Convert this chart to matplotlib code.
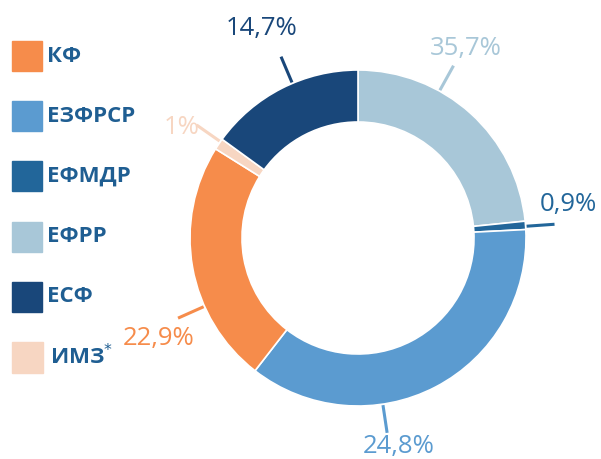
import numpy as np
import matplotlib.pyplot as plt
from matplotlib.patches import Rectangle

# slices clockwise from 12 o'clock (sizes as drawn)
names = ["ЕФРР", "ЕФМДР", "ЕЗФРСР", "КФ", "ИМЗ", "ЕСФ"]
shares = [23.4, 0.8, 36.3, 23.4, 1.1, 15.0]
pct_labels = ["35,7%", "0,9%", "24,8%", "22,9%", "1%", "14,7%"]
colors = ["#a8c7d8", "#22669a", "#5b9bd0", "#f68c4b", "#f7d6c2", "#19477a"]

legend_names = ["КФ", "ЕЗФРСР", "ЕФМДР", "ЕФРР", "ЕСФ", "ИМЗ$^{*}$"]
legend_colors = ["#f68c4b", "#5b9bd0", "#22669a", "#a8c7d8", "#19477a", "#f7d6c2"]

# leader line angle (deg, clockwise from top), text position in px
line_angles = [29, 86, 171.5, 246, 305, 337]
text_pos = [(466, 48), (568, 204), (399, 447), (159, 338), (182, 128), (262, 28)]

W, H = 601, 459
fig = plt.figure(figsize=(W / 100, H / 100), dpi=100)
ax = fig.add_axes([0, 0, 1, 1])

cx, cy = 358, H - 238
r_out, r_in = 168, 116

ax.pie(
    shares,
    colors=colors,
    startangle=90,
    counterclock=False,
    center=(cx, cy),
    radius=r_out,
    wedgeprops=dict(width=r_out - r_in, edgecolor="white", linewidth=1.2),
    frame=True,
)
ax.set_xlim(0, W)
ax.set_ylim(0, H)
ax.set_aspect("equal")
ax.axis("off")

for lab, col, ang, (tx, ty) in zip(pct_labels, colors, line_angles, text_pos):
    t = np.deg2rad(ang)
    r1, r2 = r_out + 1, r_out + 29
    ax.plot(
        [cx + r1 * np.sin(t), cx + r2 * np.sin(t)],
        [cy + r1 * np.cos(t), cy + r2 * np.cos(t)],
        color=col, lw=2.2, solid_capstyle="butt",
    )
    ax.text(tx, H - ty, lab, color=col, fontsize=18.5, ha="center", va="center",
            family="Open Sans")

# legend
for i, (nm, col) in enumerate(zip(legend_names, legend_colors)):
    yc = 56 + i * 60.2
    size = 30 if i < 5 else 31
    ax.add_patch(Rectangle((12, H - yc - size / 2), size, size, color=col))
    ax.text(47 if i < 5 else 50, H - yc, nm, color="#1f5e92", fontsize=16,
            fontweight="bold", ha="left", va="center", family="Open Sans")

fig.savefig("out.png", dpi=100)
